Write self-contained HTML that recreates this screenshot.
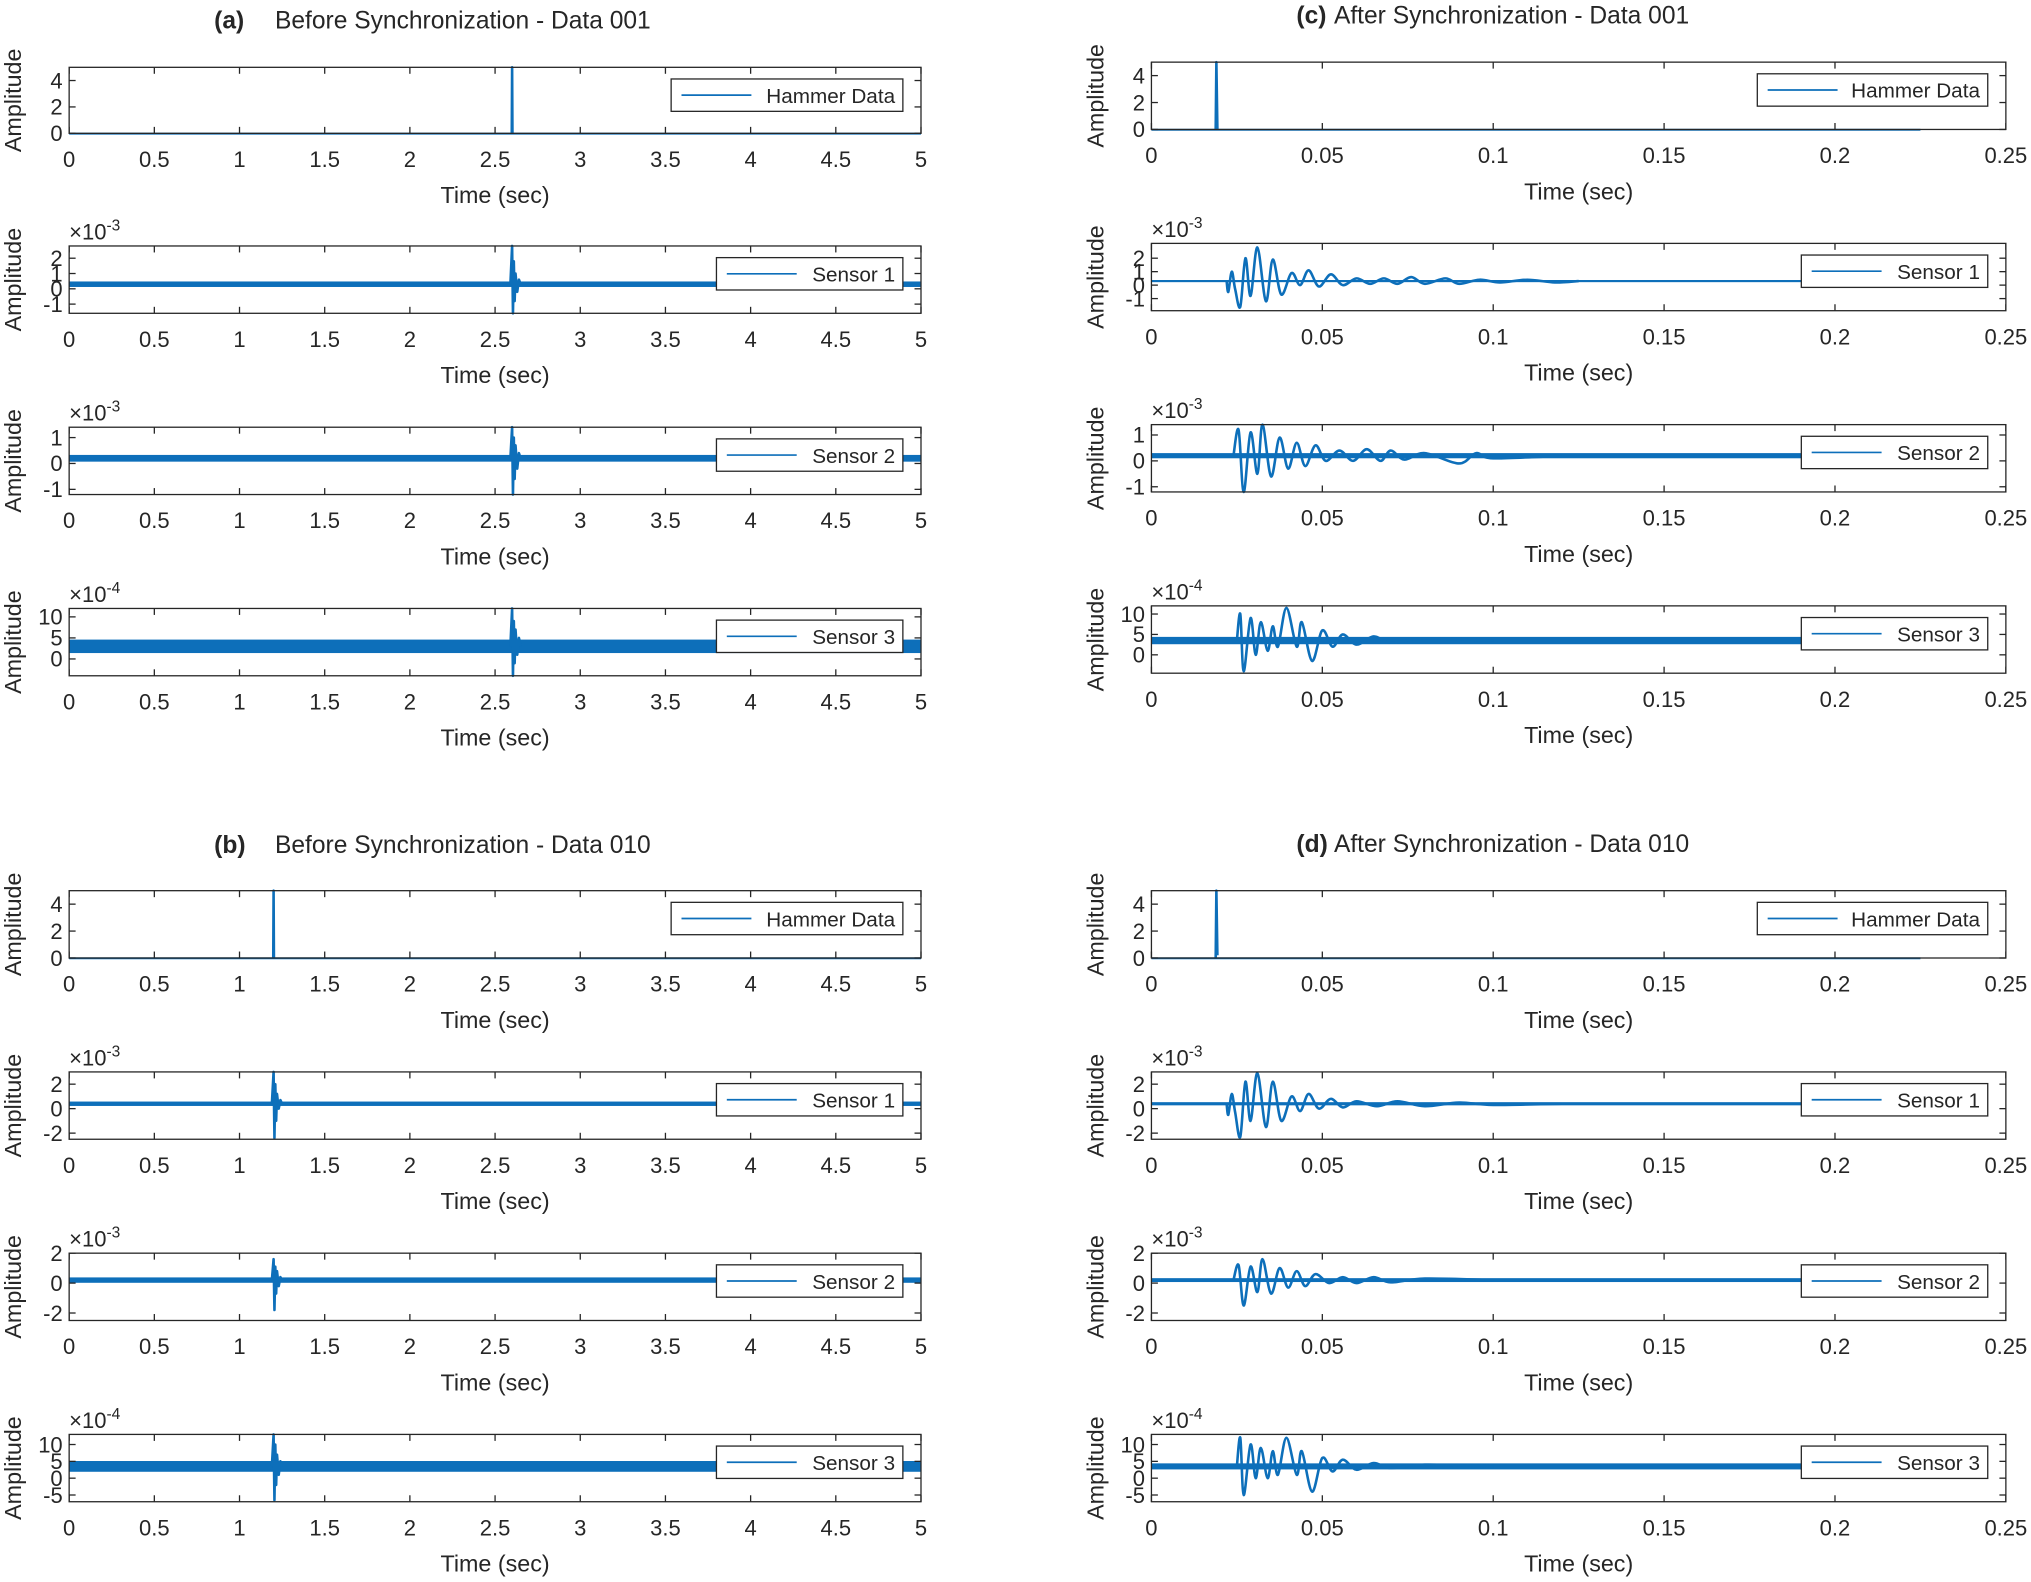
<!DOCTYPE html>
<html><head><meta charset="utf-8">
<style>
html,body{margin:0;padding:0;background:#fff;}
svg{display:block;}
text{font-family:"Liberation Sans Narrow","Liberation Sans",sans-serif;fill:#262626;}
</style></head>
<body>
<svg id="fig" width="2031" height="1582" viewBox="0 0 1568 1222" xmlns="http://www.w3.org/2000/svg">
<g><text x="165" y="22" font-size="19" font-weight="bold">(a)</text><text x="212" y="22" font-size="19">Before Synchronization - Data 001</text></g>
<g><text x="165" y="659" font-size="19" font-weight="bold">(b)</text><text x="212" y="659" font-size="19">Before Synchronization - Data 010</text></g>
<g><text x="1001" y="18" font-size="19" font-weight="bold">(c)</text><text x="1030" y="18" font-size="19">After Synchronization - Data 001</text></g>
<g><text x="1001" y="658" font-size="19" font-weight="bold">(d)</text><text x="1030" y="658" font-size="19">After Synchronization - Data 010</text></g>
</svg>
<script>
// ---- data (time in sec, amplitude in plotted units) ----
const leftXTicks = [0,0.5,1,1.5,2,2.5,3,3.5,4,4.5,5];
const rightXTicks = [0,0.05,0.1,0.15,0.2,0.25];
const rightXTickLabels = ["0","0.05","0.1","0.15","0.2","0.25"];

const aHammer = [[2.598,0],[2.6,5],[2.602,0]];
const aS1 = [[2.59,0.3],[2.6,2.8],[2.605,-1.6],[2.61,1.8],[2.615,-0.8],[2.62,1.0],[2.63,-0.2],[2.64,0.6],[2.65,0.3]];
const aS2 = [[2.59,0.2],[2.6,1.4],[2.605,-1.2],[2.61,1.0],[2.615,-0.6],[2.62,0.7],[2.63,-0.2],[2.64,0.4],[2.65,0.2]];
const aS3 = [[2.59,3],[2.6,12],[2.605,-4],[2.61,9],[2.615,-1],[2.62,7],[2.63,1],[2.64,5],[2.65,3]];

const bHammer = [[1.198,0],[1.2,5],[1.202,0]];
const bS1 = [[1.19,0.4],[1.2,3],[1.205,-2.4],[1.21,2],[1.215,-1],[1.22,1.2],[1.23,0],[1.24,0.7],[1.25,0.4]];
const bS2 = [[1.19,0.2],[1.2,1.6],[1.205,-1.8],[1.21,1.1],[1.215,-0.7],[1.22,0.8],[1.23,-0.2],[1.24,0.4],[1.25,0.2]];
const bS3 = [[1.19,3.5],[1.2,13],[1.205,-6.5],[1.21,10],[1.215,-2],[1.22,7],[1.23,1],[1.24,5],[1.25,3.5]];

const cHammer = [[0.0188,0],[0.019,5],[0.0193,0]];
const cS1 = [[0.022,0.3],[0.0225,-0.5],[0.0235,1.0],[0.0245,-0.3],[0.026,-1.6],[0.0275,2.0],[0.029,-0.8],[0.031,2.8],[0.0335,-1.2],[0.0355,1.9],[0.038,-0.7],[0.041,0.9],[0.0435,0.0],[0.046,1.1],[0.049,-0.1],[0.0525,0.8],[0.056,0.0],[0.06,0.5],[0.064,0.1],[0.068,0.5],[0.072,0.1],[0.076,0.6],[0.08,0.1],[0.086,0.5],[0.09,0.1],[0.096,0.4],[0.102,0.2],[0.11,0.4],[0.118,0.2],[0.125,0.3]];
const cS2 = [[0.024,0.2],[0.0255,1.2],[0.027,-1.2],[0.029,1.1],[0.031,-0.5],[0.0325,1.4],[0.035,-0.6],[0.0375,0.9],[0.04,-0.3],[0.0425,0.7],[0.045,-0.2],[0.048,0.6],[0.051,0.0],[0.055,0.4],[0.059,0.0],[0.063,0.45],[0.067,0.0],[0.07,0.4],[0.074,0.05],[0.08,0.3],[0.09,-0.1],[0.095,0.3],[0.1,0.1],[0.12,0.2]];
const cS3 = [[0.025,3.5],[0.026,10],[0.027,-4],[0.029,9],[0.0305,0],[0.032,8],[0.034,1],[0.0355,7],[0.037,2],[0.0395,11.5],[0.0425,2],[0.044,8],[0.047,-1.5],[0.05,6],[0.053,2],[0.056,5],[0.06,2.5],[0.065,4.5],[0.07,3],[0.08,4],[0.1,3.5]];

const dHammer = [[0.0188,0],[0.019,5],[0.0193,0.2]];
const dS1 = [[0.022,0.4],[0.0225,-0.5],[0.0235,1.2],[0.0245,-0.3],[0.026,-2.3],[0.0275,2.2],[0.029,-1.0],[0.031,2.9],[0.0335,-1.5],[0.0355,2.2],[0.038,-1.0],[0.041,1.0],[0.0435,-0.2],[0.046,1.2],[0.049,0],[0.0525,0.8],[0.056,0.1],[0.06,0.6],[0.066,0.2],[0.072,0.6],[0.08,0.2],[0.09,0.5],[0.1,0.3],[0.12,0.4]];
const dS2 = [[0.024,0.2],[0.0255,1.2],[0.027,-1.5],[0.029,1.1],[0.031,-0.6],[0.0325,1.6],[0.035,-0.7],[0.0375,1.0],[0.04,-0.3],[0.0425,0.8],[0.045,-0.2],[0.048,0.6],[0.052,0.0],[0.056,0.4],[0.06,0.0],[0.065,0.4],[0.07,0.05],[0.08,0.3],[0.1,0.2]];
const dS3 = [[0.025,3.5],[0.026,12],[0.027,-5],[0.029,10],[0.0305,0],[0.032,9],[0.034,0],[0.0355,8],[0.037,1],[0.0395,12],[0.0425,1],[0.044,8],[0.047,-4],[0.05,6],[0.053,2],[0.056,5.5],[0.06,2.5],[0.065,4.5],[0.07,3],[0.08,4],[0.1,3.5]];

// baseline & noise half-width per series
const baselines = {aH:0,aS1:0.3,aS2:0.2,aS3:3,bH:0,bS1:0.4,bS2:0.2,bS3:3.5,cH:0,cS1:0.3,cS2:0.2,cS3:3.5,dH:0,dS1:0.4,dS2:0.2,dS3:3.5};
const noises = {aH:0.05,aS1:0.18,aS2:0.13,aS3:1.6,bH:0.05,bS1:0.18,bS2:0.18,bS3:1.6,cH:0.05,cS1:0.08,cS2:0.1,cS3:0.9,dH:0.05,dS1:0.13,dS2:0.13,dS3:0.9};

const NS="http://www.w3.org/2000/svg";
const svg=document.getElementById('fig');
const BLUE='#0d6fba';
function el(tag,attrs,parent){const e=document.createElementNS(NS,tag);for(const k in attrs)e.setAttribute(k,attrs[k]);(parent||svg).appendChild(e);return e;}

function smoothPath(P){
  let d='M'+P[0][0].toFixed(2)+' '+P[0][1].toFixed(2);
  for(let i=0;i<P.length-1;i++){
    const p0=P[Math.max(0,i-1)],p1=P[i],p2=P[i+1],p3=P[Math.min(P.length-1,i+2)];
    const c1x=p1[0]+(p2[0]-p0[0])/6,c1y=p1[1]+(p2[1]-p0[1])/6;
    const c2x=p2[0]-(p3[0]-p1[0])/6,c2y=p2[1]-(p3[1]-p1[1])/6;
    d+=' C'+c1x.toFixed(2)+' '+c1y.toFixed(2)+' '+c2x.toFixed(2)+' '+c2y.toFixed(2)+' '+p2[0].toFixed(2)+' '+p2[1].toFixed(2);
  }
  return d;
}

function plot(key,x0,x1,y0,y1,xlim,ylim,xticks,xlabels,yticks,exp,legend,legendLeft,pts,tEnd,smooth){
  const g=el('g',{});
  
  
  const sx=v=>x0+(v-xlim[0])/(xlim[1]-xlim[0])*(x1-x0);
  const sy=v=>y1-(v-ylim[0])/(ylim[1]-ylim[0])*(y1-y0);
  const base=baselines[key],nz=noises[key];
  const band=el('rect',{x:sx(xlim[0]),y:sy(base+nz),width:sx(tEnd)-sx(xlim[0]),height:Math.max(1.5,sy(base-nz)-sy(base+nz)),fill:BLUE},g);
  
  
  const clip=v=>Math.max(ylim[0],Math.min(ylim[1],v));
  const P=pts.map(p=>[sx(p[0]),sy(clip(p[1]))]);
  const d=smooth?smoothPath(P):P.map((p,i)=>(i?'L':'M')+p[0].toFixed(2)+' '+p[1].toFixed(2)).join(' ');
  const ln=el('path',{d:d,fill:'none',stroke:BLUE,'stroke-width':2,'stroke-linejoin':'round'},g);
  
  
  const box=el('rect',{x:x0,y:y0,width:x1-x0,height:y1-y0,fill:'none',stroke:'#262626','stroke-width':1},g);
  
  
  xticks.forEach((t,i)=>{
    const x=sx(t);
    el('line',{x1:x,x2:x,y1:y1,y2:y1-5,stroke:'#262626'},g);
    el('line',{x1:x,x2:x,y1:y0,y2:y0+5,stroke:'#262626'},g);
    const tx=el('text',{x:x,y:y1+26,'font-size':17,'text-anchor':'middle'},g);
    tx.textContent=xlabels?xlabels[i]:String(t);
    
    
  });
  yticks.forEach(t=>{
    const y=sy(t);
    el('line',{x1:x0,x2:x0+5,y1:y,y2:y,stroke:'#262626'},g);
    el('line',{x1:x1,x2:x1-5,y1:y,y2:y,stroke:'#262626'},g);
    const tx=el('text',{x:x0-5,y:y+6,'font-size':17,'text-anchor':'end'},g);
    tx.textContent=String(t);
    
    
  });
  const xl=el('text',{x:(x0+x1)/2,y:y1+54,'font-size':18,'text-anchor':'middle'},g);
  xl.textContent='Time (sec)';
  
  
  const cy=(y0+y1)/2;
  const yl=el('text',{x:x0-37,y:cy,'font-size':18,'text-anchor':'middle',transform:'rotate(-90 '+(x0-37)+' '+cy+')'},g);
  yl.textContent='Amplitude';
  
  
  if(exp){
    const ex=el('text',{x:x0,y:y0-5,'font-size':17},g);
    ex.innerHTML='×10<tspan dy="-7" font-size="12">'+exp+'</tspan>';
    
    
  }
  const lx=legendLeft, lw=x1-14-lx, ly=y0+9;
  const lg=el('g',{},g);
  
  
  el('rect',{x:lx,y:ly,width:lw,height:25,fill:'#fff',stroke:'#262626','stroke-width':1},lg);
  el('line',{x1:lx+8,x2:lx+62,y1:ly+12.5,y2:ly+12.5,stroke:BLUE,'stroke-width':1.3},lg);
  const lt=el('text',{x:lx+lw-6,y:ly+18.5,'font-size':16,'text-anchor':'end'},lg);
  lt.textContent=legend;
  
  
}

const L=[53,711], R=[889,1549];
const lx5=[0,5], rx=[0,0.25];
plot('aH',L[0],L[1],52,103,lx5,[0,5],leftXTicks,null,[0,2,4],null,'Hammer Data',518,aHammer,5,false);
plot('aS1',L[0],L[1],190,242,lx5,[-1.6,2.8],leftXTicks,null,[-1,0,1,2],'-3','Sensor 1',553,aS1,5,false);
plot('aS2',L[0],L[1],330,382,lx5,[-1.2,1.4],leftXTicks,null,[-1,0,1],'-3','Sensor 2',553,aS2,5,false);
plot('aS3',L[0],L[1],470,522,lx5,[-4,12],leftXTicks,null,[0,5,10],'-4','Sensor 3',553,aS3,5,false);
plot('bH',L[0],L[1],688,740,lx5,[0,5],leftXTicks,null,[0,2,4],null,'Hammer Data',518,bHammer,5,false);
plot('bS1',L[0],L[1],828,880,lx5,[-2.5,3],leftXTicks,null,[-2,0,2],'-3','Sensor 1',553,bS1,5,false);
plot('bS2',L[0],L[1],968,1020,lx5,[-2.5,2],leftXTicks,null,[-2,0,2],'-3','Sensor 2',553,bS2,5,false);
plot('bS3',L[0],L[1],1108,1160,lx5,[-7,13],leftXTicks,null,[-5,0,5,10],'-4','Sensor 3',553,bS3,5,false);
plot('cH',R[0],R[1],48,100,rx,[0,5],rightXTicks,rightXTickLabels,[0,2,4],null,'Hammer Data',1357,cHammer,0.225,false);
plot('cS1',R[0],R[1],188,240,rx,[-1.9,3.1],rightXTicks,rightXTickLabels,[-1,0,1,2],'-3','Sensor 1',1391,cS1,0.225,true);
plot('cS2',R[0],R[1],328,380,rx,[-1.2,1.4],rightXTicks,rightXTickLabels,[-1,0,1],'-3','Sensor 2',1391,cS2,0.225,true);
plot('cS3',R[0],R[1],468,520,rx,[-4.5,12],rightXTicks,rightXTickLabels,[0,5,10],'-4','Sensor 3',1391,cS3,0.225,true);
plot('dH',R[0],R[1],688,740,rx,[0,5],rightXTicks,rightXTickLabels,[0,2,4],null,'Hammer Data',1357,dHammer,0.225,false);
plot('dS1',R[0],R[1],828,880,rx,[-2.5,3],rightXTicks,rightXTickLabels,[-2,0,2],'-3','Sensor 1',1391,dS1,0.225,true);
plot('dS2',R[0],R[1],968,1020,rx,[-2.5,2],rightXTicks,rightXTickLabels,[-2,0,2],'-3','Sensor 2',1391,dS2,0.225,true);
plot('dS3',R[0],R[1],1108,1160,rx,[-7,13],rightXTicks,rightXTickLabels,[-5,0,5,10],'-4','Sensor 3',1391,dS3,0.225,true);
</script>
</body></html>
